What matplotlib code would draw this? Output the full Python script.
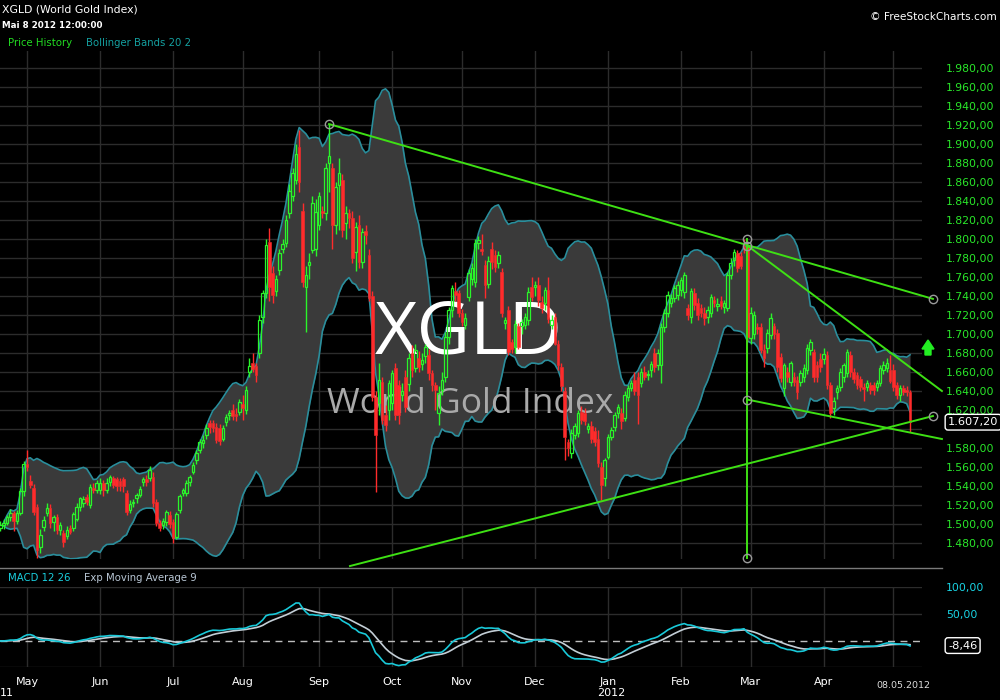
import numpy as np
import pandas as pd
import matplotlib
matplotlib.use("Agg")
import matplotlib.pyplot as plt
from matplotlib.patches import Polygon
from matplotlib.lines import Line2D
from matplotlib.transforms import blended_transform_factory

# ---------------- data ----------------
dates = pd.bdate_range("2011-04-20", "2012-05-08")

opens = [
    1496,1499,1501,1507,1512,1503,1512,1535,
    1563,1545,1538,1518,1476,1497,1512,1517,1502,1507,1494,1491,1487,1496,1496,1505,1518,1522,1528,1520,1538,1536,
    1536,1543,1536,1544,1548,1547,1545,1547,1533,1515,1522,1527,1531,1544,1547,1548,1550,1523,1501,1499,1502,1510,
    1502,1486,1515,1533,1533,1544,1555,1567,1578,1585,1594,1606,1606,1602,1601,1590,1607,1615,1620,1616,1618,
    1626,1620,1660,1670,1666,1680,1718,1743,1797,1764,1745,1767,1790,1796,1827,1845,1862,1897,1830,1750,1773,1788,1790,
    1815,1830,1827,1880,1875,1815,1857,1862,1817,1827,1822,1786,1815,1776,1808,1783,1740,1634,1627,1650,1615,1620,
    1627,1664,1646,1636,1655,1647,1680,1664,1675,1668,1677,1678,1659,1646,1617,1641,1655,1697,1725,1745,1743,
    1722,1710,1739,1758,1755,1796,1790,1773,1753,1790,1783,1775,1765,1712,1725,1692,1686,1708,1708,1709,1715,1750,
    1749,1752,1734,1733,1746,1710,1718,1690,1665,1640,1586,1575,1594,1596,1618,1617,1600,1603,1598,1590,1560,1548,
    1571,1592,1602,1617,1617,1612,1634,1643,1652,1655,1648,1660,1657,1662,1680,1667,1667,1707,1722,1733,1738,1741,
    1746,1744,1727,1718,1743,1733,1727,1722,1718,1722,1736,1729,1735,1728,1727,1762,1778,1785,1782,1792,1792,
    1696,1700,1707,1707,1683,1685,1699,1708,1701,1676,1643,1660,1650,1655,1652,1649,1655,1662,1683,1681,1667,1674,
    1674,1678,1646,1622,1639,1644,1655,1659,1678,1660,1657,1653,1644,1644,1646,1646,1644,1648,1662,1664,1662,
    1662,1646,1636,1643,1641,1639,
]
highs = [
    1503,1505,1509,1516,1514,1515,1538,1566,
    1578,1552,1542,1521,1495,1508,1522,1521,1510,1511,1502,1494,1498,1499,1513,1522,1528,1530,1532,1542,1543,1546,
    1548,1546,1548,1552,1551,1550,1548,1550,1536,1525,1526,1533,1540,1550,1552,1561,1555,1526,1504,1506,1515,1514,
    1505,1513,1532,1538,1546,1552,1565,1578,1590,1594,1605,1610,1609,1606,1605,1604,1616,1620,1626,1622,1632,
    1636,1645,1675,1680,1670,1720,1746,1800,1812,1772,1762,1790,1800,1825,1858,1875,1900,1915,1838,1772,1785,1845,1842,
    1850,1835,1880,1921,1880,1860,1885,1868,1835,1832,1830,1818,1825,1812,1815,1790,1745,1640,1670,1655,1625,1652,
    1662,1670,1652,1648,1662,1680,1688,1690,1682,1680,1690,1684,1662,1650,1645,1660,1702,1728,1752,1755,1746,
    1726,1722,1768,1775,1800,1803,1805,1778,1782,1797,1788,1787,1770,1718,1730,1695,1715,1712,1716,1722,1750,1760,
    1756,1760,1740,1750,1760,1720,1722,1694,1670,1644,1590,1600,1606,1620,1624,1622,1606,1608,1602,1599,1565,1570,
    1595,1602,1618,1626,1622,1640,1646,1652,1660,1660,1664,1666,1662,1672,1685,1684,1712,1726,1745,1742,1752,1756,
    1760,1765,1732,1748,1748,1738,1732,1728,1730,1742,1740,1738,1740,1736,1765,1780,1790,1788,1786,1800,1795,
    1728,1724,1712,1712,1690,1705,1722,1712,1705,1680,1670,1665,1672,1660,1656,1662,1668,1690,1695,1684,1672,1680,
    1685,1682,1650,1634,1646,1664,1670,1684,1682,1664,1660,1656,1648,1652,1650,1650,1652,1667,1672,1675,1678,
    1668,1650,1646,1646,1645,1641,
]
lows = [
    1493,1495,1499,1503,1493,1500,1510,1530,
    1556,1538,1510,1464,1470,1493,1508,1496,1493,1490,1488,1476,1484,1490,1493,1503,1514,1518,1520,1517,1533,1533,
    1532,1530,1533,1540,1538,1535,1535,1534,1510,1512,1518,1522,1528,1540,1540,1545,1518,1498,1493,1495,1498,1496,
    1480,1484,1512,1530,1530,1540,1553,1563,1575,1580,1590,1596,1597,1585,1583,1587,1603,1610,1610,1608,1615,
    1610,1616,1655,1660,1650,1675,1712,1738,1735,1733,1740,1762,1785,1792,1822,1840,1858,1850,1750,1702,1758,1785,1782,
    1810,1822,1820,1850,1790,1805,1810,1802,1800,1812,1775,1766,1770,1770,1795,1735,1630,1534,1615,1605,1598,1610,
    1620,1610,1605,1630,1618,1640,1655,1660,1660,1662,1670,1652,1640,1620,1604,1636,1650,1690,1718,1735,1718,
    1708,1705,1735,1752,1750,1790,1783,1738,1748,1768,1765,1770,1718,1705,1678,1680,1680,1684,1700,1705,1710,1735,
    1740,1730,1722,1725,1712,1705,1688,1662,1640,1567,1572,1570,1590,1592,1605,1604,1596,1585,1582,1560,1525,1540,
    1568,1588,1598,1612,1600,1608,1630,1640,1636,1605,1644,1652,1652,1655,1660,1662,1648,1702,1718,1728,1734,1736,
    1740,1738,1715,1712,1725,1715,1718,1710,1712,1718,1728,1724,1726,1722,1724,1758,1772,1765,1768,1785,1692,
    1690,1695,1700,1680,1665,1680,1695,1695,1660,1650,1635,1650,1645,1645,1632,1645,1650,1658,1678,1650,1650,1660,
    1668,1642,1612,1615,1632,1640,1650,1655,1655,1648,1642,1640,1630,1640,1637,1636,1640,1645,1658,1660,1648,
    1640,1632,1630,1636,1635,1597,
]
closes = [
    1499,1501,1507,1512,1503,1512,1535,1563,
    1560,1541,1513,1473,1488,1504,1517,1501,1507,1494,1499,1481,1494,1492,1511,1518,1527,1526,1523,1539,1536,1543,
    1543,1536,1543,1549,1541,1540,1540,1540,1513,1521,1523,1531,1537,1547,1544,1557,1522,1501,1496,1503,1513,1500,
    1485,1511,1530,1536,1543,1550,1562,1575,1586,1588,1601,1602,1601,1588,1587,1601,1613,1617,1614,1614,1628,
    1622,1641,1666,1663,1657,1715,1743,1794,1749,1741,1758,1785,1795,1820,1851,1870,1890,1860,1755,1762,1776,1838,1828,
    1845,1827,1875,1887,1815,1855,1870,1810,1827,1822,1780,1813,1776,1807,1804,1738,1634,1594,1652,1610,1604,1648,
    1659,1615,1615,1640,1623,1675,1662,1683,1665,1673,1686,1659,1646,1641,1638,1652,1697,1725,1748,1741,1722,
    1713,1717,1764,1770,1796,1799,1787,1752,1777,1776,1771,1783,1722,1715,1681,1684,1711,1686,1713,1718,1744,1739,
    1752,1736,1727,1746,1716,1715,1690,1667,1645,1592,1580,1596,1603,1617,1610,1608,1603,1590,1586,1564,1541,1567,
    1592,1599,1615,1623,1608,1636,1643,1648,1640,1636,1660,1655,1658,1668,1665,1680,1707,1722,1741,1738,1748,1752,
    1757,1762,1720,1745,1731,1720,1722,1717,1725,1739,1733,1732,1729,1733,1762,1775,1786,1770,1772,1789,1697,
    1722,1720,1705,1683,1675,1701,1717,1700,1665,1654,1667,1655,1669,1650,1639,1659,1664,1685,1692,1655,1655,1665,
    1679,1646,1617,1630,1643,1660,1667,1681,1660,1653,1646,1644,1642,1648,1641,1641,1648,1664,1667,1669,1651,
    1644,1636,1643,1639,1639,1607.2,
]

month_labels = ["May", "Jun", "Jul", "Aug", "Sep", "Oct", "Nov", "Dec",
                "Jan", "Feb", "Mar", "Apr", ""]
price_ticks = list(range(1480, 1981, 20))
macd_ticks = [100, 50]
last_price = 1607.20
last_macd = -8.46

# trend lines drawn on the chart: (x index positions, prices)
trend_x = [[99, 280.9], [225, 283.6], [225, 283.6], [105.3, 280.9], [225, 225]]
trend_y = [[1921, 1737], [1793, 1640], [1631, 1589.5], [1455.8, 1613.7], [1800, 1464]]
anchor_x = [99, 280.9, 225, 225, 225, 225, 280.9]
anchor_y = [1921, 1737, 1800, 1793, 1631, 1464, 1613.7]

# ---------------- prepare ----------------
n = min(len(opens), len(highs), len(lows), len(closes), len(dates))
dates = dates[:n]
O = np.array(opens[:n], float)
H = np.array(highs[:n], float)
L = np.array(lows[:n], float)
C = np.array(closes[:n], float)
x = np.arange(n)

cs = pd.Series(C)
mid = cs.rolling(20, min_periods=2).mean()
sd = cs.rolling(20, min_periods=2).std(ddof=0)
upper = mid + 2 * sd
lower = mid - 2 * sd

ema12 = cs.ewm(span=12, adjust=False).mean()
ema26 = cs.ewm(span=26, adjust=False).mean()
macd = ema12 - ema26
signal = macd.ewm(span=9, adjust=False).mean()

month_idx = [i for i in range(1, n) if dates[i].month != dates[i - 1].month]


def de_fmt(v):
    return f"{v:,.2f}".replace(",", "X").replace(".", ",").replace("X", ".")


# ---------------- figure ----------------
W, Hpx = 1000, 700
fig = plt.figure(figsize=(10, 7), dpi=100, facecolor="black")


def fx(px):
    return px / W


def fy(py):
    return 1 - py / Hpx


ax = fig.add_axes([0, fy(559), fx(922), (559 - 51) / Hpx])
axm = fig.add_axes([0, fy(667), fx(922), (667 - 587) / Hpx])

GRID = "#2c2c2c"
GREEN = "#2af52a"
RED = "#ff2b2b"
TEAL = "#2a8e9c"
LINEG = "#3ee014"
PAD = 24 * 72 / 100  # 24 px in points

xlim = (-0.12, 277.6)
for a in (ax, axm):
    a.set_facecolor("black")
    for s in a.spines.values():
        s.set_visible(False)
    a.set_xlim(*xlim)
    for mi in month_idx:
        a.axvline(mi, color=GRID, lw=1, zorder=0)

ax.set_ylim(1463.2, 1997.9)
for p in price_ticks:
    ax.axhline(p, color=GRID, lw=1, zorder=0)

# Bollinger band
ax.fill_between(x, lower, upper, color="#3a3a3a", zorder=1, lw=0)
ax.plot(x, upper, color=TEAL, lw=1.2, zorder=1.5)
ax.plot(x, lower, color=TEAL, lw=1.2, zorder=1.5)

# watermark
ax.text(fx(469), fy(353), "XGLD", transform=fig.transFigure, ha="center",
        va="baseline", fontsize=53, color="white", family="Open Sans", zorder=2)
ax.text(fx(470), fy(413), "World Gold Index", transform=fig.transFigure,
        ha="center", va="baseline", fontsize=25.5, color="#a9a9a9",
        family="Open Sans", zorder=2)

# candles
up = C >= O
top = np.maximum(O, C)
bot = np.minimum(O, C)
hgt = np.maximum(top - bot, 0.9)
cols = np.where(up, GREEN, RED)
ax.vlines(x, top, H, colors=cols, lw=1, zorder=3)
ax.vlines(x, L, bot, colors=cols, lw=1, zorder=3)
ax.bar(x[up], hgt[up], bottom=bot[up], width=0.78, facecolor="none",
       edgecolor=GREEN, linewidth=0.9, zorder=4)
ax.bar(x[~up], hgt[~up], bottom=bot[~up], width=0.78, color=RED,
       edgecolor=RED, linewidth=0.4, zorder=4)

# trend lines
for tx, ty in zip(trend_x, trend_y):
    ax.plot(tx, ty, color=LINEG, lw=1.4, zorder=5, clip_on=False)
ax.plot(anchor_x, anchor_y, ls="none", marker="o", ms=6, mfc="none",
        mec="#9a9a9a", mew=1, zorder=6, clip_on=False)

# right price axis
ax.yaxis.tick_right()
ax.set_yticks(price_ticks)
ax.set_yticklabels(["" if abs(p - 1600) < 1 else de_fmt(p) for p in price_ticks])
ax.tick_params(axis="y", length=0, pad=PAD, labelcolor="#2ae82a", labelsize=7.8)
ax.set_xticks([])

btr = blended_transform_factory(fig.transFigure, ax.transData)
ax.text(fx(948), last_price, de_fmt(last_price),
        transform=btr, ha="left", va="center", color="white", fontsize=8.2,
        bbox=dict(boxstyle="round,pad=0.25", fc="black", ec="white", lw=1), zorder=10)

# green up arrow
arr = [(922, 349), (928, 340), (934, 349), (931, 349), (931, 355), (925, 355), (925, 349)]
fig.patches.append(Polygon([(fx(a), fy(b)) for a, b in arr], closed=True,
                           transform=fig.transFigure, color="#22ee22"))

# separator
fig.lines.append(Line2D([0, fx(942)], [fy(568), fy(568)], transform=fig.transFigure,
                        color="#7a7a7a", lw=1))

# MACD panel
axm.set_ylim(-48.15, 100)
for g in (100, 50, -48.15):
    axm.axhline(g, color=GRID, lw=1, zorder=0)
axm.axhline(0, color="#bdbdbd", lw=1, dashes=(5, 4), zorder=1)
axm.plot(x, signal, color="#c3ced6", lw=1.2, zorder=2)
axm.plot(x, macd, color="#19c9d9", lw=1.2, zorder=3)
axm.yaxis.tick_right()
axm.set_yticks(macd_ticks)
axm.set_yticklabels([f"{v:.2f}".replace(".", ",") for v in macd_ticks])
axm.tick_params(axis="y", length=0, pad=PAD, labelcolor="#19d4e4", labelsize=7.8)
axm.set_xticks(month_idx)
axm.set_xticklabels(month_labels[:len(month_idx)])
axm.tick_params(axis="x", length=0, pad=7, labelcolor="white", labelsize=8)
btm = blended_transform_factory(fig.transFigure, axm.transData)
axm.text(fx(948), last_macd, f"{last_macd:.2f}".replace(".", ","), transform=btm,
         ha="left", va="center", color="white", fontsize=8.2,
         bbox=dict(boxstyle="round,pad=0.25", fc="black", ec="white", lw=1), zorder=10)

# header texts
fig.text(fx(2), fy(9), "XGLD (World Gold Index)", color="white", fontsize=7.8, va="center")
fig.text(fx(2), fy(25), "Mai 8 2012 12:00:00", color="white", fontsize=6.3,
         va="center", fontweight="bold")
fig.text(fx(8), fy(43), "Price History", color="#22dd22", fontsize=7.3, va="center")
fig.text(fx(86), fy(43), "Bollinger Bands 20 2", color="#14a0a0", fontsize=7.3, va="center")
fig.text(fx(997), fy(17), "\u00a9 FreeStockCharts.com", color="white", fontsize=7.6,
         va="center", ha="right")
fig.text(fx(8), fy(578), "MACD 12 26", color="#1ad0e0", fontsize=7.3, va="center")
fig.text(fx(84), fy(578), "Exp Moving Average 9", color="#b8c6d4", fontsize=7.3, va="center")
fig.text(fx(0), fy(693), "11", color="white", fontsize=8, va="center", ha="left")
fig.text(fx(611), fy(693), "2012", color="white", fontsize=8, va="center", ha="center")
fig.text(fx(903), fy(686), "08.05.2012", color="#dddddd", fontsize=6.8, va="center", ha="center")

fig.savefig("out.png", dpi=100, facecolor="black")
